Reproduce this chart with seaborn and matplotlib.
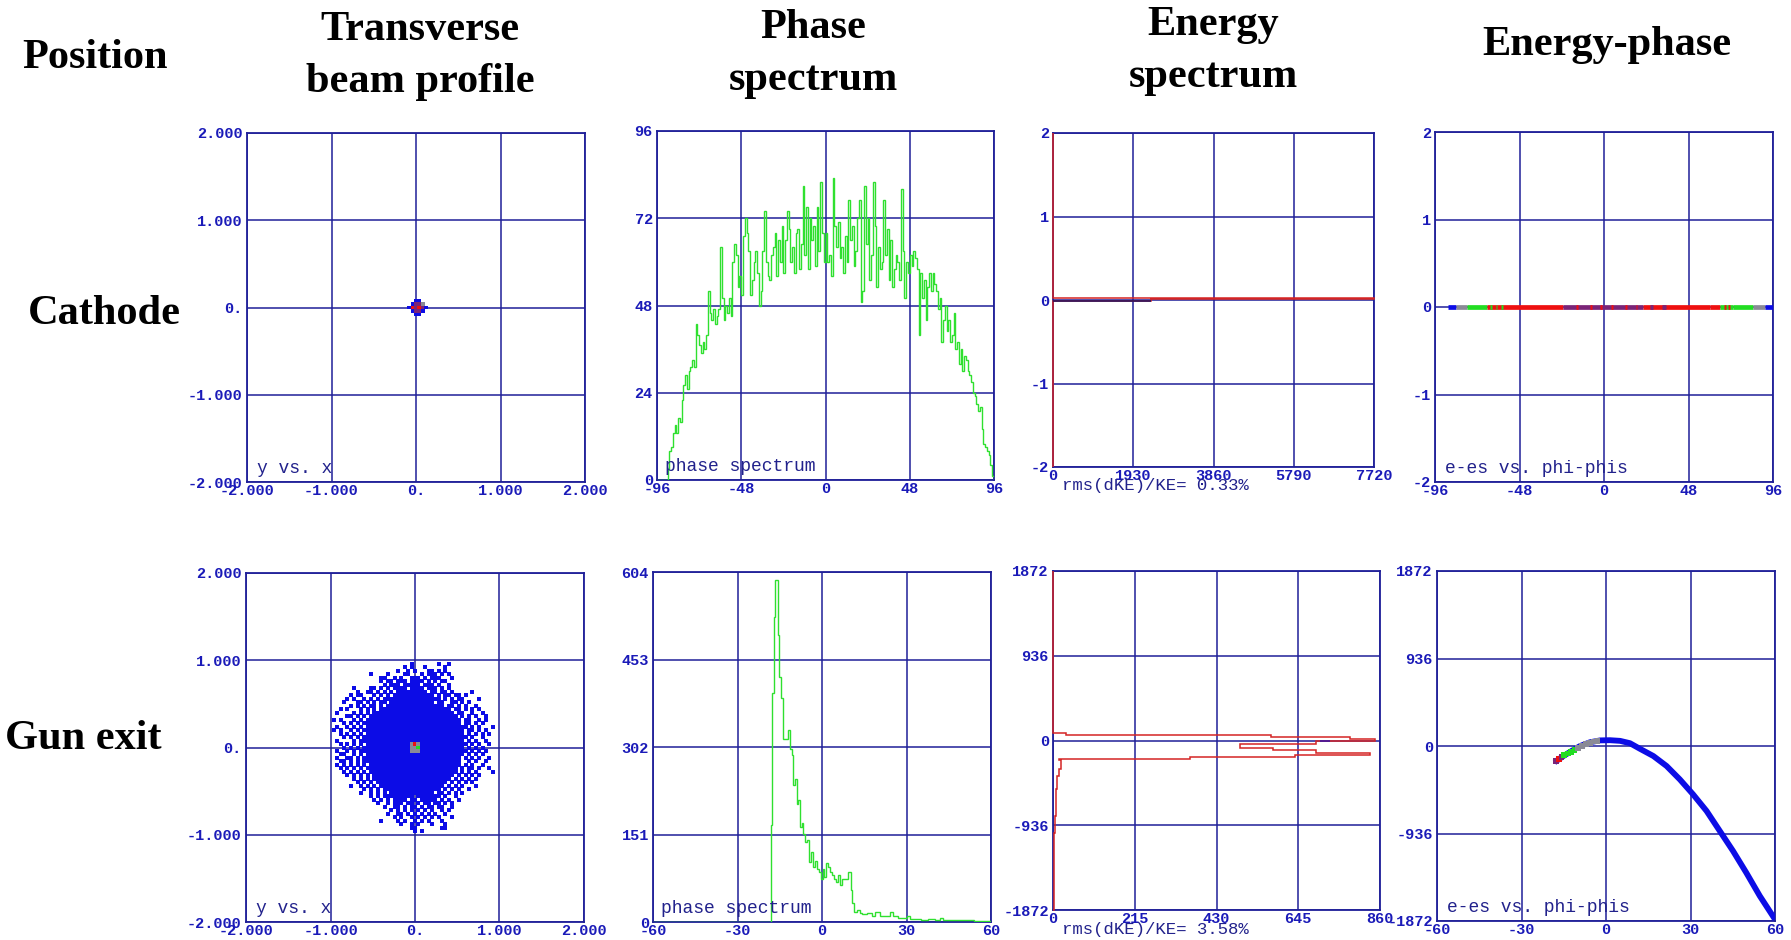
import numpy as np
import pandas as pd
import matplotlib
matplotlib.use("Agg")
import matplotlib.pyplot as plt
import seaborn as sns

# ======================= DATA =======================
column_titles = ["Position", "Transverse\nbeam profile", "Phase\nspectrum",
                 "Energy\nspectrum", "Energy-phase"]
row_titles = ["Cathode", "Gun exit"]

beam_ticks = [-2, -1, 0, 1, 2]
beam_ticklabels = ["-2.000", "-1.000", "0.", "1.000", "2.000"]
panel_notes = ["y vs. x", "phase spectrum", "e-es vs. phi-phis"]
rms_notes = ["rms(dKE)/KE= 0.33%", "rms(dKE)/KE= 3.58%"]

# --- transverse profile: pixel cells (size 0.04) ---
cell = 0.04
cathode_cells_c = [0, 1, -1, 0, 1, 2, -2, -1, 0, 1, 2, 3, -1, 0, 1, 2, 0, 1]
cathode_cells_r = [2, 2, 1, 1, 1, 1, 0, 0, 0, 0, 0, 0, -1, -1, -1, -1, -2, -2]
cathode_cells_k = ["blue", "blue", "blue", "purple", "purple", "gray",
                   "blue", "red", "purple", "red", "purple", "blue",
                   "blue", "purple", "purple", "blue", "blue", "blue"]

# gun exit cloud: occupied cell columns for each cell row (a:b = run)
gun_rows = [24, 23, 22, 21, 20, 19, 18, 17, 16, 15, 14, 13, 12, 11, 10, 9, 8, 7, 6,
            5, 4, 3, 2, 1, 0, -1, -2, -3, -4, -5, -6, -7, -8, -9, -10, -11, -12,
            -13, -14, -15, -16, -17, -18, -19, -20, -21, -22, -23, -24]
gun_cols = [
    "-1 7 10",
    "-3 -1 3 9",
    "-5 -2 0 4 5 7 9",
    "-13 -8 -3 -2 2 4:6 8 10",
    "-10 -9 -6 -4 -1:1 3 5:7 11",
    "-10 -8 -7 -5:-3 -1:2 4 6 8 9",
    "-9 -7:-5 -3:1 3:5 7 10",
    "-18 -13 -12 -10 -8 -6:-3 -1:2 4:6 8 10",
    "-17 -14 -13 -11 -9 -7 -5:3 5 6 8 9 11 17",
    "-19 -17 -16 -12 -10 -8 -6:5 7 9 10 12 13 15",
    "-20 -18 -15 -13 -11 -9 -8:7 9 11 13 14 19",
    "-21 -17 -16 -14 -12 -10 -9 -7:5 7 8 11 12 14 16",
    "-19 -17 -15 -13 -12 -10 -8:8 10 11 13 15 18",
    "-22 -20 -16 -14 -12 -10:10 12 13 15 17 19",
    "-23 -18 -16 -14 -12:11 13 14 17 20",
    "-20 -19 -17 -15 -13:12 14 16 18 21",
    "-24 -22 -18 -16 -14 -13:13 15 16 19 21",
    "-21 -19 -17 -15 -14:13 15 16 18 20",
    "-23 -20 -18 -16 -14:14 15 17 19 23",
    "-24 -22 -19 -17 -15:14 16 17 19 21",
    "-22 -20 -18 -16 -14:14 16 18 20 22",
    "-21 -19 -17 -15:15 17 20",
    "-23 -18 -16 -15:14 16 18 21",
    "-22 -20 -18 -16 -14:15 17 19 22",
    "-21 -19 -17 -15:14 16 18 20",
    "-23 -20 -18 -16:15 17 19 21",
    "-22 -21 -18 -16 -14:14 16 18 20",
    "-23 -20 -19 -17 -15:13 15 17 19 22",
    "-22 -21 -19 -17 -15 -14:13 16 18 21",
    "-23 -21 -19 -17 -15 -13:13 15 17 20",
    "-22 -20 -18 -16 -14 -13:12 14 16 17 19 22",
    "-21 -19 -17 -15 -13:12 14 16 18 23",
    "-20 -18 -16 -14 -12:11 13 15 17 19",
    "-18 -16 -14 -12:10 12 14 16 18",
    "-17 -15 -13 -11:9 11 13 15 17",
    "-19 -16 -14 -12 -10:8 10 12 14 18",
    "-15 -13 -11 -9:7 9 11 13 16",
    "-16 -13 -11 -9 -7:5 7 8 10 12 14",
    "-13 -11 -9:-1 1:7 9 12",
    "-12 -10 -8 -6:-3 -1 0 2:6 8 10 13",
    "-11 -8 -6:-4 -2 -1 1 3 4 6 7 9 11",
    "-9 -6 -5 -3 -1 0 2 4 5 7 8 11",
    "-7 -5 -3 -1 1 3 5 8 10",
    "-8 -5 -4 -2 0 2 4 6 9",
    "-6 -4 -1 1 3 5 7 11",
    "-10 -5 -3 0 2 4 8",
    "-4 -1 1 5 9",
    "-1 0 8 9",
    "0 2",
]
gun_core_c = [-1, 0, 1, -1, 0, 1, -1, 0, 1]
gun_core_r = [1, 1, 1, 0, 0, 0, -1, -1, -1]
gun_core_k = ["gray", "red", "gray", "gray", "gray", "green", "gray", "gray", "gray"]

# --- phase spectra ---
phase1_ticks = [-96, -48, 0, 48, 96]
phase1_yticks = [0, 24, 48, 72, 96]
phase1_start, phase1_bin = -96, 1
phase1_counts = [
    0, 0, 0, 0, 0, 0, 3, 8,
    9, 13, 15, 13, 17, 16, 22, 26,
    29, 25, 30, 31, 33, 31, 43, 40,
    37, 35, 38, 36, 40, 52, 46, 44,
    47, 43, 45, 47, 64, 50, 44, 48,
    46, 50, 45, 60, 65, 62, 53, 56,
    51, 67, 72, 68, 63, 51, 55, 60,
    63, 57, 48, 52, 63, 74, 60, 56,
    55, 62, 64, 68, 56, 66, 60, 70,
    57, 66, 74, 69, 60, 64, 57, 68,
    69, 58, 65, 81, 62, 75, 58, 72,
    66, 70, 59, 75, 63, 82, 68, 60,
    68, 60, 62, 56, 83, 70, 64, 71,
    61, 64, 57, 67, 60, 77, 66, 70,
    59, 63, 72, 77, 49, 52, 81, 65,
    72, 55, 62, 82, 70, 53, 64, 58,
    60, 77, 62, 69, 55, 66, 53, 58,
    62, 60, 55, 80, 63, 50, 60, 57,
    62, 59, 63, 61, 58, 40, 57, 50,
    55, 44, 53, 57, 52, 57, 54, 52,
    47, 50, 38, 44, 48, 41, 44, 38,
    40, 46, 36, 38, 32, 36, 30, 34,
    33, 30, 29, 27, 24, 23, 21, 19,
    20, 14, 10, 9, 8, 7, 4, 1,
]

phase2_ticks = [-60, -30, 0, 30, 60]
phase2_yticks = [0, 151, 302, 453, 604]
phase2_edges = [-60.0, -18.17, -17.58, -17.10, -16.51, -15.56, -15.09, -14.50, -13.90,
                -12.01, -11.53, -10.82, -10.23, -9.64, -9.05, -8.45, -7.86, -7.27,
                -6.68, -6.08, -5.25, -4.66, -3.95, -3.36, -2.65, -1.94, -1.22, -0.51,
                0.20, 0.79, 1.50, 2.21, 2.92, 3.63, 4.35, 5.06, 5.77, 6.36, 7.19,
                7.90, 9.32, 10.15, 10.74, 11.46, 12.29, 13.47, 14.1, 15.9, 17.6, 18.8,
                20.6, 22.3, 24.1, 25.3, 27.0, 30.0, 31.2, 33.5, 35.3, 37.6, 40.0,
                41.8, 42.9, 47.1, 51.7, 54.1, 60.0]
phase2_counts = [0, 167, 395, 526, 590, 495, 423, 387, 316, 331, 299, 288, 236, 247,
                 204, 210, 164, 170, 152, 138, 141, 104, 121, 95, 106, 92, 86, 75,
                 92, 78, 101, 95, 86, 81, 75, 69, 81, 63, 75, 75, 86, 55, 32, 17,
                 20, 15, 13, 15, 11, 17, 10, 11, 17, 10, 7, 10, 5, 6, 4, 5, 3, 7,
                 4, 3, 3.5, 2]

# --- energy spectra (count vs energy) ---
energy1_xticks = [0, 1930, 3860, 5790, 7720]
energy1_yticks = [-2, -1, 0, 1, 2]
energy1_edges = [-2.0, -0.016, 0.010, 0.018, 2.0]
energy1_counts = [0, 2350, 7720, 0]
energy1_dark_y, energy1_dark_len = -0.008, 2350

energy2_xticks = [0, 215, 430, 645, 860]
energy2_yticks = [-1872, -936, 0, 936, 1872]
energy2_edges = [-1872, -1020, -836, -541, -394, -320, -210, -199, -177, -155, -136,
                 -110, -88, -44, -7, 0, 18, 40, 66, 85, 1872]
energy2_counts = [2, 4, 7, 10, 15, 20, 17, 359, 636, 833, 692, 579, 491, 692, 727,
                  846, 780, 574, 35, 0]
energy2_dark_y, energy2_dark_from, energy2_dark_to = -7, 701, 728

# --- energy-phase ---
ep1_lo = [-88.8, -84.1, -77.9, -66.5, -23.1, 22.3, 60.1, 66.0, 73.3, 84.7, 91.3,
          -64.5, -61.5, -58.5, -16.0, -8.0, -2.0, 4.0, 12.0, 18.0, 26.0, 33.0, 68.0, 70.5]
ep1_hi = [-84.1, -77.9, -66.5, -23.1, 22.3, 60.1, 66.0, 73.3, 84.7, 91.3, 96.0,
          -63.5, -60.5, -57.5, -15.0, -7.0, -1.0, 5.0, 13.0, 19.0, 28.0, 35.0, 69.5, 71.5]
ep1_col = ["blue", "gray", "green", "red", "purple", "red", "red", "green", "green",
           "gray", "blue", "green", "green", "green", "red", "red", "red", "red",
           "red", "red", "purple", "purple", "red", "red"]

ep2_phase = [-18.3, -15.1, -12.2, -9.2, -5.7, -2.1, 1.4, 5.0, 8.5, 12.0, 16.8, 21.5,
             26.2, 30.9, 35.7, 40.4, 45.1, 49.8, 54.6, 60.0]
ep2_energy = [-175, -107, -53, 0, 40, 60, 62, 55, 30, -29, -107, -214, -357, -517,
              -695, -909, -1123, -1355, -1604, -1854]
ep2_hl_phase = [-17.8, -16.8, -15.8, -14.8, -13.6, -12.4, -11.2, -10.0, -8.6, -7.2,
                -5.8, -4.4, -3.0]
ep2_hl_energy = [-165, -140, -120, -100, -80, -60, -40, -20, 0, 18, 35, 48, 58]
ep2_hl_col = ["purple", "red", "purple", "green", "green", "green", "green", "gray",
              "gray", "gray", "gray", "gray", "gray"]

# ======================= STYLE =======================
sns.set_theme(style="white")
plt.rcParams["font.family"] = ["Liberation Serif", "DejaVu Sans"]

GRID = "#1f1f98"
TICKC = "#1a1ab8"
NOTE = "#22228c"
GREEN = "#2fe02f"
RED = "#d42424"
palette = {"blue": "#0c0ce6", "purple": "#7a2478", "red": "#ee1010",
           "gray": "#8a8a96", "green": "#22dd22"}

W, H = 1791, 940
fig = plt.figure(figsize=(W / 100, H / 100), dpi=100)

def box(l, t, r, b):
    return [l / W, 1 - b / H, (r - l) / W, (b - t) / H]

boxes = [
    [box(247, 133, 585, 482), box(657, 131, 994, 480), box(1053, 133, 1374, 467), box(1435, 132, 1773, 482)],
    [box(246, 573, 584, 922), box(653, 572, 991, 922), box(1053, 571, 1380, 910), box(1437, 571, 1775, 921)],
]
axes = [[fig.add_axes(b) for b in row] for row in boxes]

def style(ax, xlim, ylim, xt, xtl, yt, ytl):
    ax.set_xlim(*xlim)
    ax.set_ylim(*ylim)
    ax.set_xticks(xt)
    ax.set_xticklabels(xtl)
    ax.set_yticks(yt)
    ax.set_yticklabels(ytl)
    ax.set_xlabel("")
    ax.set_ylabel("")
    ax.tick_params(length=0, labelsize=11, labelcolor=TICKC)
    ax.tick_params(axis="x", pad=1.5)
    ax.tick_params(axis="y", pad=3)
    for lab in ax.get_xticklabels() + ax.get_yticklabels():
        lab.set_fontfamily("Liberation Mono")
        lab.set_fontweight("bold")
    ax.grid(True, color=GRID, lw=1.1)
    ax.set_axisbelow(True)
    ax.set_facecolor("white")
    for sp in ax.spines.values():
        sp.set_visible(True)
        sp.set_color(GRID)
        sp.set_linewidth(1.3)
    leg = ax.get_legend()
    if leg is not None:
        leg.remove()

def note(ax, text, x, y, size=13, va="baseline"):
    ax.text(x, y, text, transform=ax.transAxes, fontsize=size, color=NOTE,
            family="Liberation Mono", ha="left", va=va, clip_on=False)

def parse(spec):
    out = []
    for tok in spec.split():
        if ":" in tok[1:]:
            i = tok.index(":", 1)
            a, b = int(tok[:i]), int(tok[i + 1:])
            out.extend(range(a, b + 1))
        else:
            out.append(int(tok))
    return out

# ---- transverse profiles ----
ax = axes[0][0]
df = pd.DataFrame({"x": np.array(cathode_cells_c) * cell,
                   "y": np.array(cathode_cells_r) * cell, "k": cathode_cells_k})
sns.scatterplot(data=df, x="x", y="y", hue="k", palette=palette, marker="s", s=8,
                linewidth=0, ax=ax, legend=False, zorder=3)
style(ax, (-2, 2), (-2, 2), beam_ticks, beam_ticklabels, beam_ticks, beam_ticklabels)
note(ax, panel_notes[0], 0.03, 0.026)

ax = axes[1][0]
xs, ys = [], []
for r, spec in zip(gun_rows, gun_cols):
    for c in parse(spec):
        xs.append(c * cell)
        ys.append(r * cell)
sns.scatterplot(x=xs, y=ys, color=palette["blue"], marker="s", s=8, linewidth=0,
                ax=ax, zorder=3)
dfc = pd.DataFrame({"x": np.array(gun_core_c) * cell,
                    "y": np.array(gun_core_r) * cell, "k": gun_core_k})
sns.scatterplot(data=dfc, x="x", y="y", hue="k", palette=palette, marker="s", s=8,
                linewidth=0, ax=ax, legend=False, zorder=4)
style(ax, (-2, 2), (-2, 2), beam_ticks, beam_ticklabels, beam_ticks, beam_ticklabels)
note(ax, panel_notes[0], 0.03, 0.026)

# ---- phase spectra ----
ax = axes[0][1]
edges1 = phase1_start + phase1_bin * np.arange(len(phase1_counts) + 1)
ax.stairs(phase1_counts, edges1, baseline=0, color=GREEN, lw=1.0, zorder=3)
style(ax, (-96, 96), (0, 96), phase1_ticks, [str(t) for t in phase1_ticks],
      phase1_yticks, [str(t) for t in phase1_yticks])
note(ax, panel_notes[1], 0.024, 0.027)

ax = axes[1][1]
ax.stairs(phase2_counts, phase2_edges, baseline=0, color=GREEN, lw=1.0, zorder=3)
style(ax, (-60, 60), (0, 604), phase2_ticks, [str(t) for t in phase2_ticks],
      phase2_yticks, [str(t) for t in phase2_yticks])
note(ax, panel_notes[1], 0.024, 0.027)

# ---- energy spectra ----
ax = axes[0][2]
ax.stairs(energy1_counts, energy1_edges, orientation="horizontal", baseline=0,
          color=RED, lw=1.1, zorder=3, clip_on=False)
ax.hlines(energy1_dark_y, 0, energy1_dark_len, color="#1a1060", lw=1.1, zorder=4)
style(ax, (0, 7720), (-2, 2), energy1_xticks, [str(t) for t in energy1_xticks],
      energy1_yticks, [str(t) for t in energy1_yticks])
note(ax, rms_notes[0], 0.028, -0.07, size=12.5)

ax = axes[1][2]
ax.stairs(energy2_counts, energy2_edges, orientation="horizontal", baseline=0,
          color=RED, lw=1.1, zorder=3, clip_on=False)
ax.hlines(energy2_dark_y, energy2_dark_from, energy2_dark_to, color="#4a1a9a", lw=1.3, zorder=4)
style(ax, (0, 860), (-1872, 1872), energy2_xticks, [str(t) for t in energy2_xticks],
      energy2_yticks, [str(t) for t in energy2_yticks])
note(ax, rms_notes[1], 0.028, -0.07, size=12.5)

# ---- energy-phase ----
ax = axes[0][3]
for lo, hi, k in zip(ep1_lo, ep1_hi, ep1_col):
    ax.hlines(0, lo, hi, color=palette[k], lw=3.4, zorder=3, capstyle="butt")
style(ax, (-96, 96), (-2, 2), phase1_ticks, [str(t) for t in phase1_ticks],
      energy1_yticks, [str(t) for t in energy1_yticks])
note(ax, panel_notes[2], 0.03, 0.027)

ax = axes[1][3]
sns.lineplot(x=ep2_phase, y=ep2_energy, sort=False, color=palette["blue"], lw=4.2,
             solid_joinstyle="round", solid_capstyle="butt", ax=ax, zorder=3)
dfe = pd.DataFrame({"x": ep2_hl_phase, "y": ep2_hl_energy, "k": ep2_hl_col})
sns.scatterplot(data=dfe, x="x", y="y", hue="k", palette=palette, marker="s", s=18,
                linewidth=0, ax=ax, legend=False, zorder=4)
style(ax, (-60, 60), (-1872, 1872), phase2_ticks, [str(t) for t in phase2_ticks],
      energy2_yticks, [str(t) for t in energy2_yticks])
note(ax, panel_notes[2], 0.03, 0.027)

# ---- headers ----
hdr = dict(fontsize=30.5, fontweight="bold", family="Liberation Serif",
           ha="center", va="center", color="black", linespacing=1.45)
header_pos = [(95, 58), (420, 56), (813, 54), (1213, 51), (1607, 45)]
for t, (px, py) in zip(column_titles, header_pos):
    fig.text(px / W, 1 - py / H, t, **hdr)
row_pos = [(104, 314), (83, 739)]
for t, (px, py) in zip(row_titles, row_pos):
    fig.text(px / W, 1 - py / H, t, **hdr)

fig.savefig("out.png", dpi=100, facecolor="white")
